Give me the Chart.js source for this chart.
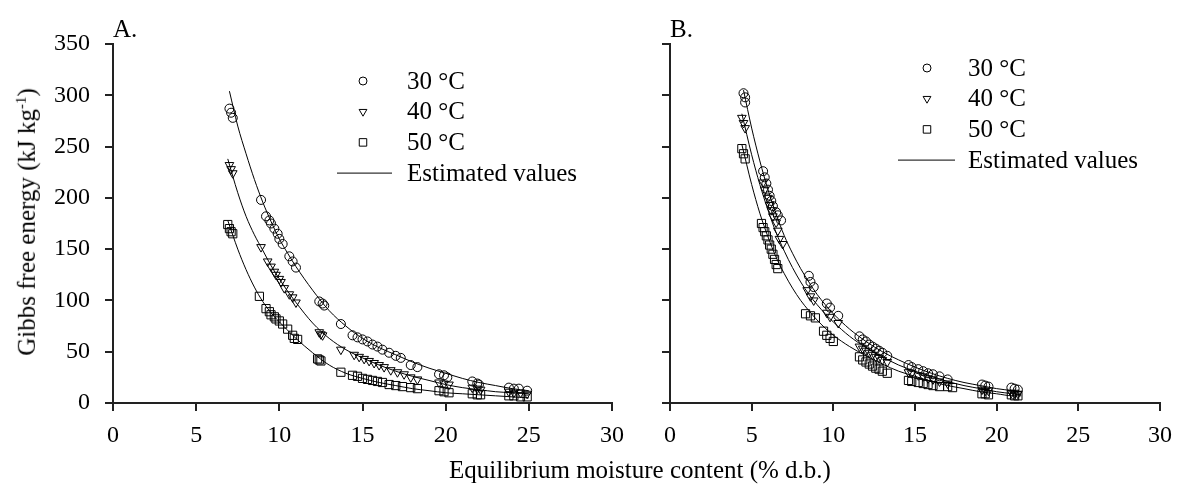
<!DOCTYPE html>
<html>
<head>
<meta charset="utf-8">
<script src="https://cdn.jsdelivr.net/npm/chart.js@4.4.0/dist/chart.umd.min.js"></script>
<style>
html, body { margin: 0; padding: 0; background: #fff; }
#wrap { position: relative; width: 1182px; height: 486px; overflow: hidden; font-family: "Liberation Serif", "Times New Roman", serif; color: #000; }
canvas { position: absolute; left: 0; top: 0; }
.ytitle { position: absolute; left: 27px; top: 222px; transform: translate(-50%, -50%) rotate(-90deg); white-space: nowrap; font-size: 25px; }
.ytitle sup { font-size: 15px; }
.xtitle { position: absolute; left: 640px; top: 470px; transform: translate(-50%, -50%); white-space: nowrap; font-size: 25px; }
.panel { position: absolute; top: 15px; font-size: 25px; }
</style>
</head>
<body>
<div id="wrap">
    <canvas id="chartA" width="1182" height="486"></canvas>
    <canvas id="chartB" width="1182" height="486"></canvas>
    <div class="panel" style="left:113px">A.</div>
    <div class="panel" style="left:670px">B.</div>
    <div class="ytitle">Gibbs free energy (kJ kg<sup>-1</sup>)</div>
    <div class="xtitle">Equilibrium moisture content (% d.b.)</div>
</div>
<script>
// Legend labels
const seriesLabels = ['30 °C', '40 °C', '50 °C'];
const fitLabel = 'Estimated values';

// Axis ticks
const xTicks = [0, 5, 10, 15, 20, 25, 30];
const yTicks = [0, 50, 100, 150, 200, 250, 300, 350];

// Panel A - observed values
const a30x = [7.0, 7.1, 7.2, 8.9, 9.2, 9.4, 9.5, 9.7, 9.9, 10.0, 10.2, 10.6, 10.8, 11.0, 12.4, 12.6, 12.7, 13.7, 14.4, 14.7, 15.0, 15.3, 15.6, 15.9, 16.2, 16.6, 17.0, 17.3, 17.9, 18.3, 19.6, 19.9, 20.1, 21.6, 21.9, 22.0, 23.8, 24.1, 24.4, 24.9];
const a30y = [287, 283, 278, 198, 182, 178, 175, 170, 165, 160, 155, 143, 138, 132, 99, 97, 95, 77, 66, 64, 62, 60, 57, 55, 52, 49, 46, 44, 37, 35, 28, 27, 25, 21, 19, 18, 15, 14, 14, 12];
const a40x = [7.0, 7.1, 7.2, 8.9, 9.3, 9.5, 9.7, 9.8, 10.0, 10.1, 10.3, 10.6, 10.8, 11.0, 12.4, 12.5, 12.6, 13.7, 14.5, 14.8, 15.1, 15.4, 15.7, 16.0, 16.3, 16.7, 17.1, 17.5, 17.9, 18.3, 19.6, 19.9, 20.2, 21.6, 21.9, 22.1, 23.8, 24.1, 24.5, 24.9];
const a40y = [232, 228, 224, 152, 138, 133, 128, 125, 121, 118, 112, 106, 103, 98, 69, 67, 66, 52, 47, 45, 43, 41, 39, 37, 35, 32, 30, 28, 25, 23, 20, 19, 18, 15, 14, 13, 11, 10, 10, 9];
const a50x = [6.9, 7.0, 7.1, 7.2, 8.8, 9.2, 9.4, 9.5, 9.7, 9.8, 10.0, 10.2, 10.5, 10.8, 10.9, 11.1, 12.3, 12.4, 12.5, 13.7, 14.4, 14.7, 15.0, 15.3, 15.6, 15.9, 16.2, 16.6, 17.0, 17.4, 17.9, 18.3, 19.6, 19.9, 20.2, 21.6, 21.9, 22.1, 23.8, 24.1, 24.5, 24.9];
const a50y = [174, 170, 167, 165, 104, 92, 89, 86, 84, 82, 80, 77, 72, 66, 63, 62, 43, 42, 41, 30, 27, 26, 24, 23, 22, 21, 20, 18, 17, 16, 15, 14, 12, 11, 10, 9, 8, 8, 7, 7, 6, 6];

// Panel A - estimated curves
const aFit30x = [7.0, 7.5, 8, 8.5, 9, 9.5, 10, 10.5, 11, 12, 13, 14, 15, 16, 17, 18, 19, 20, 21, 22, 23, 24, 25];
const aFit30y = [304, 270, 243, 218, 196, 177, 160, 146, 133, 110, 90, 75, 63, 54, 47, 40, 34, 29, 24, 20, 17, 14, 12];
const aFit40x = [6.9, 7.5, 8, 8.5, 9, 9.5, 10, 10.5, 11, 12, 13, 14, 15, 16, 17, 18, 19, 20, 21, 22, 23, 24, 25];
const aFit40y = [238, 205, 182, 164, 149, 134, 121, 109, 98, 78, 63, 52, 44, 37, 31, 26, 22, 18, 15, 13, 11, 10, 9];
const aFit50x = [6.9, 7.5, 8, 8.5, 9, 9.5, 10, 10.5, 11, 12, 13, 14, 15, 16, 17, 18, 19, 20, 21, 22, 23, 24, 25];
const aFit50y = [178, 150, 130, 113, 99, 88, 79, 71, 63, 49, 37, 29, 24, 20, 17, 14, 12, 10, 9, 8, 7, 6, 5];

// Panel B - observed values
const b30x = [4.5, 4.6, 4.6, 5.7, 5.8, 5.9, 6.0, 6.1, 6.2, 6.3, 6.5, 6.6, 6.8, 8.5, 8.6, 8.8, 9.6, 9.8, 10.3, 11.6, 11.8, 12.0, 12.2, 12.4, 12.6, 12.8, 13.0, 13.3, 14.6, 14.8, 15.2, 15.5, 15.8, 16.1, 16.5, 17.0, 19.1, 19.3, 19.5, 20.9, 21.1, 21.3];
const b30y = [302, 298, 293, 226, 220, 214, 208, 202, 197, 192, 186, 183, 178, 124, 118, 113, 97, 93, 85, 65, 62, 60, 57, 55, 53, 51, 49, 46, 37, 35, 33, 31, 29, 28, 26, 23, 18, 17, 16, 15, 14, 13];
const b40x = [4.4, 4.5, 4.6, 5.7, 5.8, 6.0, 6.1, 6.2, 6.3, 6.5, 6.6, 6.7, 6.9, 8.4, 8.6, 8.8, 9.6, 9.8, 10.3, 11.6, 11.8, 12.0, 12.2, 12.4, 12.6, 12.8, 13.0, 13.3, 14.6, 14.8, 15.2, 15.5, 15.8, 16.1, 16.5, 17.0, 19.1, 19.3, 19.5, 20.9, 21.1, 21.3];
const b40y = [278, 273, 268, 215, 208, 200, 193, 188, 182, 176, 168, 160, 155, 110, 104, 100, 88, 84, 78, 55, 53, 51, 49, 47, 45, 44, 42, 40, 30, 29, 27, 26, 24, 23, 21, 19, 13, 12, 12, 10, 10, 9];
const b50x = [4.4, 4.5, 4.6, 5.6, 5.7, 5.8, 5.9, 6.0, 6.1, 6.2, 6.3, 6.4, 6.5, 6.6, 8.3, 8.6, 8.9, 9.4, 9.6, 9.8, 10.0, 11.6, 11.8, 12.0, 12.2, 12.4, 12.6, 12.8, 13.0, 13.3, 14.6, 14.8, 15.2, 15.5, 15.8, 16.1, 16.5, 17.0, 17.3, 19.1, 19.3, 19.5, 20.9, 21.1, 21.3];
const b50y = [248, 243, 238, 175, 171, 167, 163, 159, 154, 150, 145, 140, 135, 131, 87, 85, 83, 70, 66, 63, 60, 45, 42, 40, 38, 36, 34, 33, 31, 29, 22, 21, 20, 19, 18, 17, 16, 16, 15, 9, 9, 8, 8, 7, 7];

// Panel B - estimated curves
const bFit30x = [4.5, 5, 5.5, 6, 6.5, 7, 7.5, 8, 8.5, 9, 9.5, 10, 11, 12, 13, 14, 15, 16, 17, 18, 19, 20, 21, 21.5];
const bFit30y = [305, 268, 236, 208, 184, 163, 146, 131, 118, 106, 96, 87, 72, 60, 50, 42, 35, 29, 24, 20, 17, 14, 12, 11];
const bFit40x = [4.4, 5, 5.5, 6, 6.5, 7, 7.5, 8, 8.5, 9, 9.5, 10, 11, 12, 13, 14, 15, 16, 17, 18, 19, 20, 21, 21.5];
const bFit40y = [282, 242, 213, 188, 166, 148, 132, 118, 106, 96, 87, 79, 65, 54, 45, 37, 31, 26, 21, 17, 14, 11, 9, 8];
const bFit50x = [4.4, 5, 5.5, 6, 6.5, 7, 7.5, 8, 8.5, 9, 9.5, 10, 11, 12, 13, 14, 15, 16, 17, 18, 19, 20, 21, 21.5];
const bFit50y = [252, 213, 185, 162, 142, 126, 112, 100, 90, 81, 73, 66, 55, 46, 38, 31, 26, 21, 17, 14, 11, 9, 7, 7];

const FONT = "'Liberation Serif', 'Times New Roman', serif";
Chart.defaults.font.family = FONT;
Chart.defaults.color = '#000';

const markerStyles = [
    { pointStyle: 'circle', radius: 4.5, rotation: 0 },
    { pointStyle: 'triangle', radius: 5, rotation: 180 },
    { pointStyle: 'rect', radius: 5.8, rotation: 0 }
];

function pairs(xs, ys) {
    return xs.map((x, i) => ({ x: x, y: ys[i] }));
}

function scatterSet(xs, ys, k) {
    const m = markerStyles[k];
    return {
        type: 'scatter',
        label: seriesLabels[k],
        data: pairs(xs, ys),
        pointStyle: m.pointStyle,
        pointRadius: m.radius,
        pointRotation: m.rotation,
        pointBorderWidth: 1,
        pointBorderColor: '#000',
        pointBackgroundColor: 'rgba(0,0,0,0)',
        showLine: false
    };
}

function fitSet(xs, ys) {
    return {
        type: 'line',
        label: fitLabel,
        data: pairs(xs, ys),
        borderColor: '#000',
        borderWidth: 1,
        pointRadius: 0,
        cubicInterpolationMode: 'monotone',
        fill: false
    };
}

// Draws the legend block inside the plot area (hollow symbols)
const insideLegend = {
    id: 'insideLegend',
    afterDraw(chart, args, opts) {
        const ctx = chart.ctx;
        ctx.save();
        ctx.strokeStyle = '#000';
        ctx.lineWidth = 1;
        seriesLabels.forEach((lab, i) => {
            const y = opts.top + i * opts.gap;
            const m = markerStyles[i];
            ctx.fillStyle = 'rgba(0,0,0,0)';
            Chart.helpers.drawPoint(ctx, { pointStyle: m.pointStyle, radius: m.radius - 0.5, rotation: m.rotation, borderWidth: 1 }, opts.symX, y);
        });
        ctx.font = '25px ' + FONT;
        ctx.fillStyle = '#000';
        ctx.textBaseline = 'middle';
        seriesLabels.forEach((lab, i) => {
            ctx.fillText(lab, opts.textX, opts.top + i * opts.gap + 1);
        });
        const ly = opts.top + 3 * opts.gap;
        ctx.beginPath();
        ctx.moveTo(opts.lineX0, ly);
        ctx.lineTo(opts.lineX1, ly);
        ctx.stroke();
        ctx.fillText(fitLabel, opts.textX, ly + 1);
        ctx.restore();
    }
};

function makeChart(id, datasets, padLeft, padRight, showYLabels, legendOpts) {
    return new Chart(document.getElementById(id), {
        data: { datasets: datasets },
        plugins: [insideLegend],
        options: {
            responsive: false,
            animation: false,
            layout: { padding: { left: padLeft, right: padRight, top: 44, bottom: 23 } },
            scales: {
                x: {
                    type: 'linear',
                    min: 0,
                    max: 30,
                    afterBuildTicks: (s) => { s.ticks = xTicks.map(v => ({ value: v })); },
                    afterFit: (s) => { s.height = 60; },
                    grid: { drawOnChartArea: false, drawTicks: true, tickLength: 8, color: '#222', lineWidth: 2 },
                    border: { display: true, color: '#222', width: 2 },
                    ticks: { font: { size: 24 }, padding: 10, maxRotation: 0, color: '#000' }
                },
                y: {
                    type: 'linear',
                    min: 0,
                    max: 350,
                    afterBuildTicks: (s) => { s.ticks = yTicks.map(v => ({ value: v })); },
                    afterFit: (s) => { s.width = 110; },
                    grid: { drawOnChartArea: false, drawTicks: true, tickLength: 8, color: '#222', lineWidth: 2 },
                    border: { display: true, color: '#222', width: 2 },
                    ticks: {
                        font: { size: 24 },
                        padding: 15,
                        color: '#000',
                        callback: (v) => showYLabels ? String(v) : ''
                    }
                }
            },
            plugins: {
                legend: { display: false },
                tooltip: { enabled: false },
                insideLegend: legendOpts
            }
        }
    });
}

makeChart('chartA', [
    scatterSet(a30x, a30y, 0),
    scatterSet(a40x, a40y, 1),
    scatterSet(a50x, a50y, 2),
    fitSet(aFit30x, aFit30y),
    fitSet(aFit40x, aFit40y),
    fitSet(aFit50x, aFit50y)
], 3, 570, true, { top: 81, gap: 30.7, symX: 363, textX: 407, lineX0: 337, lineX1: 392 });

makeChart('chartB', [
    scatterSet(b30x, b30y, 0),
    scatterSet(b40x, b40y, 1),
    scatterSet(b50x, b50y, 2),
    fitSet(bFit30x, bFit30y),
    fitSet(bFit40x, bFit40y),
    fitSet(bFit50x, bFit50y)
], 560, 14, false, { top: 68, gap: 30.7, symX: 927, textX: 968, lineX0: 898, lineX1: 955 });
</script>
</body>
</html>
